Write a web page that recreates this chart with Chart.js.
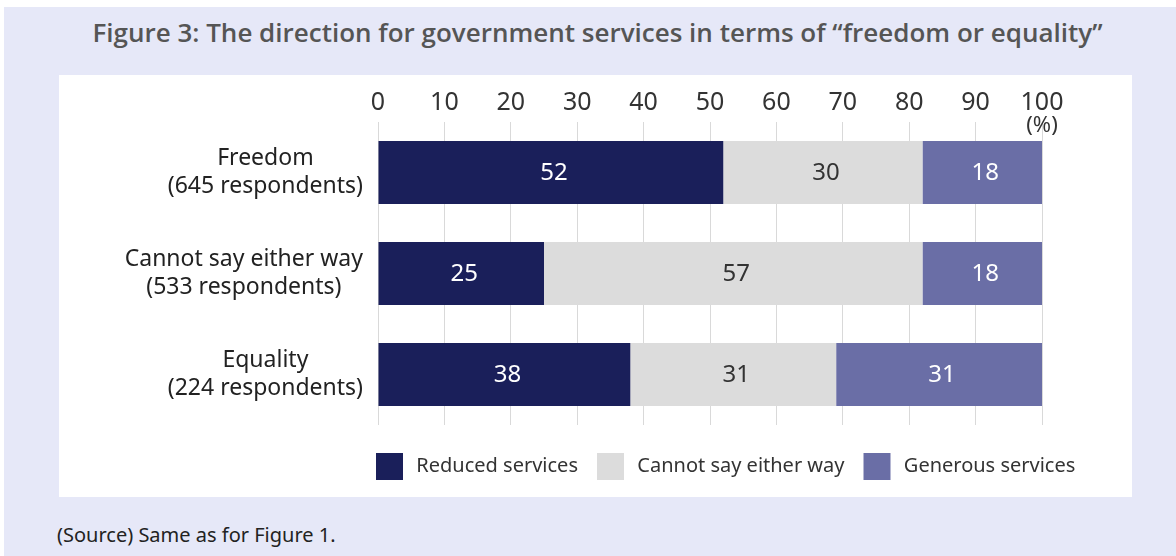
<!DOCTYPE html>
<html>
<head>
<meta charset="utf-8">
<script src="https://cdn.jsdelivr.net/npm/chart.js@4.4.1/dist/chart.umd.min.js"></script>
<style>
  body { margin: 0; width: 1176px; height: 556px; position: relative; overflow: hidden; background: #fff; font-family: 'Noto Sans', sans-serif; }
  #bg { position: absolute; left: 4px; top: 7px; right: 0; bottom: 0; background: #e6e8f8; }
  #panel { position: absolute; left: 59px; top: 75px; width: 1073px; height: 422px; background: #fff; }
  #title { position: absolute; left: 0; top: 14px; width: 1195px; text-align: center; font-family: 'Open Sans', sans-serif; font-weight: 600; font-size: 26px; color: #555; white-space: nowrap; }
  #source { position: absolute; left: 57px; top: 521px; font-size: 20px; color: #222; }
  #wrap { position: absolute; left: 0; top: 0; width: 1176px; height: 556px; }
</style>
</head>
<body>
<div id="bg"></div>
<div id="panel"></div>
<div id="title">Figure 3: The direction for government services in terms of “freedom or equality”</div>
<div id="source">(Source) Same as for Figure 1.</div>
<div id="wrap"><canvas id="chart"></canvas></div>
<script>
const categories = ['Freedom', 'Cannot say either way', 'Equality'];
const respondents = [645, 533, 224];
const seriesNames = ['Reduced services', 'Cannot say either way', 'Generous services'];
const reduced = [52, 25, 38];
const neutral = [30, 57, 31];
const generous = [18, 18, 31];
const xTicks = [0, 10, 20, 30, 40, 50, 60, 70, 80, 90, 100];

const colors = ['#1a1f5a', '#dcdcdc', '#6a6ea6'];
const valueColors = ['#ffffff', '#333333', '#ffffff'];

Chart.defaults.font.family = "'Noto Sans', sans-serif";
Chart.defaults.color = '#333';

// category names + respondent counts, each block centred on itself and right-aligned
const rowLabels = {
    id: 'rowLabels',
    afterDraw(chart) {
        const ctx = chart.ctx;
        const y = chart.scales.y;
        ctx.save();
        ctx.font = "23px 'Noto Sans'";
        ctx.fillStyle = '#222';
        ctx.textAlign = 'center';
        ctx.textBaseline = 'middle';
        categories.forEach((name, i) => {
            const lines = [name, '(' + respondents[i] + ' respondents)'];
            const w = Math.max(...lines.map(l => ctx.measureText(l).width));
            const cx = 363 - w / 2;
            const cy = y.getPixelForValue(i);
            ctx.fillText(lines[0], cx, cy - 14);
            ctx.fillText(lines[1], cx, cy + 14);
        });
        // unit under the last tick
        ctx.font = "22px 'Noto Sans'";
        ctx.fillStyle = '#333';
        ctx.fillText('(%)', chart.scales.x.getPixelForValue(100), 126);
        ctx.restore();
    }
};

// value printed in the middle of each segment
const segmentValues = {
    id: 'segmentValues',
    afterDatasetsDraw(chart) {
        const ctx = chart.ctx;
        ctx.save();
        ctx.font = "24px 'Noto Sans'";
        ctx.textAlign = 'center';
        ctx.textBaseline = 'middle';
        chart.data.datasets.forEach((ds, di) => {
            ctx.fillStyle = valueColors[di];
            chart.getDatasetMeta(di).data.forEach((bar, i) => {
                ctx.fillText(String(ds.data[i]), (bar.x + bar.base) / 2 + 3, bar.y + 1);
            });
        });
        ctx.restore();
    }
};

// pull the legend down a little and start it under the plot's left edge
const legendPlace = {
    id: 'legendPlace',
    afterLayout(chart) {
        const lg = chart.legend;
        const h = lg.bottom - lg.top;
        lg.top += 9;
        lg.bottom = lg.top + h;
        lg.left = 357;
        lg.right = 1120;
    }
};

new Chart(document.getElementById('chart'), {
    type: 'bar',
    data: {
        labels: categories,
        datasets: [reduced, neutral, generous].map((d, i) => ({
            label: seriesNames[i],
            data: d,
            backgroundColor: colors[i],
            borderWidth: 0,
            categoryPercentage: 1,
            barPercentage: 0.625
        }))
    },
    options: {
        indexAxis: 'y',
        responsive: true,
        maintainAspectRatio: false,
        animation: false,
        layout: { padding: { left: 378, right: 134, top: 82, bottom: 29 } },
        scales: {
            x: {
                position: 'top',
                stacked: true,
                min: 0,
                max: 100,
                afterBuildTicks(scale) { scale.ticks = xTicks.map(v => ({ value: v })); },
                afterFit(scale) { scale.height = 40; },
                ticks: { font: { size: 25 }, color: '#333', padding: 4 },
                grid: { color: '#d9d9d9', drawTicks: false },
                border: { display: false }
            },
            y: {
                stacked: true,
                display: false
            }
        },
        plugins: {
            legend: {
                position: 'bottom',
                align: 'start',
                labels: {
                    boxWidth: 27,
                    boxHeight: 27,
                    padding: 19,
                    color: '#333',
                    font: { size: 20 },
                    generateLabels(chart) {
                        return Chart.defaults.plugins.legend.labels.generateLabels(chart)
                            .map(item => ({ ...item, text: '\u2009' + item.text, lineWidth: 0 }));
                    }
                }
            },
            tooltip: { enabled: false }
        }
    },
    plugins: [rowLabels, segmentValues, legendPlace]
});
</script>
</body>
</html>
